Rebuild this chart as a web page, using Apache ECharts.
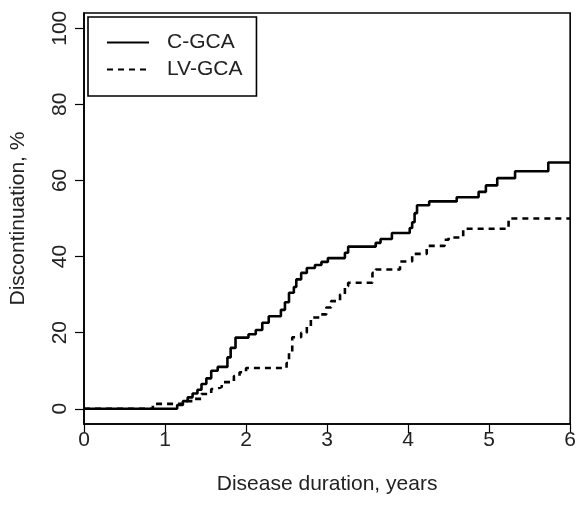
<!DOCTYPE html>
<html>
<head>
<meta charset="utf-8">
<script src="https://cdn.jsdelivr.net/npm/echarts@6/dist/echarts.min.js"></script>
<style>
  html, body { margin: 0; padding: 0; background: #fff; }
  #chart { width: 579px; height: 505px; }
</style>
</head>
<body>
<div id="chart"></div>
<script>
// Cumulative discontinuation (%), step curves
var cgcaTime = [0, 1.15, 1.22, 1.28, 1.34, 1.40, 1.45, 1.51, 1.57, 1.65, 1.77, 1.81, 1.87, 2.03, 2.12, 2.20, 2.28, 2.43, 2.48, 2.53, 2.59, 2.62, 2.68, 2.75, 2.85, 2.93, 3.01, 3.22, 3.26, 3.60, 3.66, 3.80, 4.02, 4.05, 4.08, 4.11, 4.26, 4.60, 4.87, 4.96, 5.10, 5.32, 5.73, 6.0];
var cgcaPct  = [0, 1, 2, 3, 4, 5, 6.5, 8, 10, 11, 13.5, 16, 18.7, 19.6, 20.7, 22.6, 24.3, 26, 28, 30.5, 32, 34, 35.7, 37, 37.8, 38.6, 39.6, 41, 42.6, 43.6, 44.6, 46.2, 47.5, 49, 51.4, 53.5, 54.5, 55.6, 57, 58.7, 60.6, 62.4, 64.7, 64.7];
var lvTime = [0, 0.85, 1.25, 1.35, 1.45, 1.57, 1.62, 1.70, 1.85, 1.92, 2.00, 2.50, 2.53, 2.57, 2.68, 2.75, 2.80, 2.91, 2.99, 3.05, 3.16, 3.22, 3.26, 3.56, 3.60, 3.90, 4.05, 4.23, 4.45, 4.50, 4.68, 5.24, 6.0];
var lvPct  = [0, 1.3, 2, 2.6, 3.9, 5.2, 5.7, 7, 8.6, 9.6, 10.7, 12, 15, 18.8, 20, 21.7, 24, 24.8, 26.6, 28.3, 30, 32.2, 33.1, 35.7, 36.6, 38.7, 40.7, 42.8, 44.4, 45, 47.3, 50, 50];
var xTicks = [0, 1, 2, 3, 4, 5, 6];
var yTicks = [0, 20, 40, 60, 80, 100];
var seriesNames = ['C-GCA', 'LV-GCA'];

function pairs(xs, ys) {
    return xs.map(function (x, i) { return [x, ys[i]]; });
}

var font = 'Liberation Sans, Arial, sans-serif';
var txt = '#222';
var myChart = echarts.init(document.getElementById('chart'), null, {renderer: 'canvas'});

var option = {
    animation: false,
    backgroundColor: '#fff',
    grid: {
        left: 83,
        right: 4,
        top: 13,
        bottom: 81,
        show: true,
        borderColor: '#000',
        borderWidth: 1.6,
        backgroundColor: 'transparent'
    },
    legend: {
        left: 88,
        top: 17,
        orient: 'vertical',
        data: seriesNames,
        itemWidth: 42,
        itemHeight: 14,
        itemGap: 6,
        padding: [15, 14, 16, 18],
        borderColor: '#000',
        borderWidth: 1.6,
        backgroundColor: '#fff',
        itemStyle: {opacity: 0},
        textStyle: {
            fontFamily: font,
            fontSize: 21,
            lineHeight: 21,
            color: txt,
            padding: [0, 0, 0, 13]
        }
    },
    xAxis: {
        type: 'value',
        min: 0,
        max: 6,
        interval: 1,
        name: 'Disease duration, years',
        nameLocation: 'middle',
        nameGap: 50,
        nameTextStyle: {fontFamily: font, fontSize: 21, color: txt},
        splitLine: {show: false},
        axisLine: {show: true, onZero: false, lineStyle: {color: '#000', width: 1.6}},
        axisTick: {show: true, inside: false, length: 9, lineStyle: {color: '#000', width: 1.2},
            customValues: xTicks},
        axisLabel: {fontFamily: font, fontSize: 21, color: txt, margin: 6,
            customValues: xTicks}
    },
    yAxis: {
        type: 'value',
        min: -4,
        max: 104,
        name: 'Discontinuation, %',
        nameLocation: 'middle',
        nameGap: 55,
        nameRotate: 90,
        nameTextStyle: {fontFamily: font, fontSize: 21, color: txt},
        splitLine: {show: false},
        axisLine: {show: true, onZero: false, lineStyle: {color: '#000', width: 1.6}},
        axisTick: {show: true, inside: false, length: 9, lineStyle: {color: '#000', width: 1.2},
            customValues: yTicks},
        axisLabel: {fontFamily: font, fontSize: 21, color: txt, margin: 13, rotate: 90,
            customValues: yTicks}
    },
    series: [
        {
            name: seriesNames[0],
            type: 'line',
            step: 'end',
            symbol: 'none',
            lineStyle: {color: '#000', width: 2.6, type: 'solid'},
            itemStyle: {color: '#000'},
            data: pairs(cgcaTime, cgcaPct)
        },
        {
            name: seriesNames[1],
            type: 'line',
            step: 'end',
            symbol: 'none',
            lineStyle: {color: '#000', width: 2.6, type: [6, 5]},
            itemStyle: {color: '#000'},
            data: pairs(lvTime, lvPct)
        }
    ]
};

myChart.setOption(option);
</script>
</body>
</html>
